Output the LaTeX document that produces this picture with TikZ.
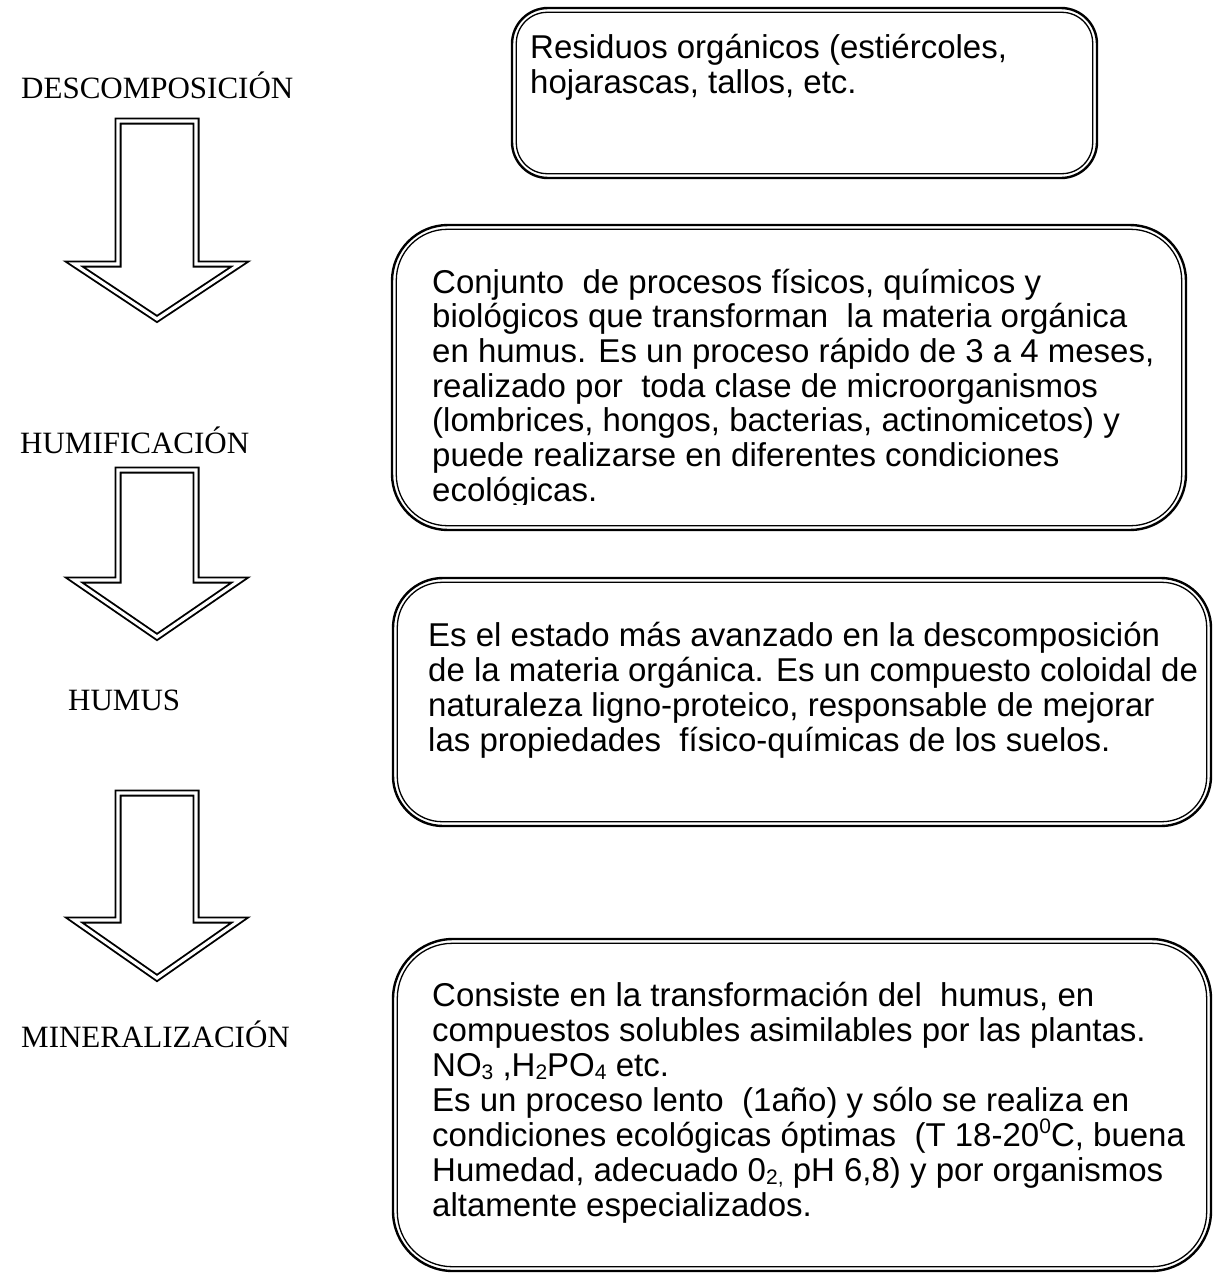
\documentclass[tikz,border=0pt]{standalone}
\usepackage{fontspec}
\setmainfont{Liberation Serif}
\newfontfamily\arialf{Liberation Sans}
\begin{document}
\begin{tikzpicture}[x=1pt,y=-1pt,
  boxline/.style={draw, line width=2.4pt, rounded corners=#1, inner sep=0pt},
  innerline/.style={draw, line width=1.3pt, rounded corners=#1},
  txt/.style={anchor=base west, inner sep=0pt, font=\arialf\fontsize{33}{35}\selectfont},
  small/.style={},
  lab/.style={anchor=base west, inner sep=0pt, font=\fontsize{31}{36}\selectfont},
  blockarrow/.style={draw, line width=1.9pt, double=white, double distance=3.2pt, line join=miter}]
\useasboundingbox (0,0) rectangle (1214,1274);
\fill[white] (0,0) rectangle (1214,1274);

% left labels
\node[lab] (l1) at (21,98) {DESCOMPOSICIÓN};
\node[lab] (l2) at (20,453) {HUMIFICACIÓN};
\node[lab] (l3) at (68,710) {HUMUS};
\node[lab] (l4) at (21,1047) {MINERALIZACIÓN};

% block arrows
\foreach \n/\t/\h/\p in {a1/121/264/319, a2/470/580/637, a3/793/920/978}{
  \draw[blockarrow] (118,\t) -- (196,\t) -- (196,\h) -- (240,\h) -- (157,\p)
        -- (74,\h) -- (118,\h) -- cycle;
}

% boxes
\node[boxline=36pt, minimum width=585pt, minimum height=170pt] (b1) at (804.5,93) {};
\draw[innerline=31pt] ([shift={(5.5,5.5)}]b1.north west) rectangle ([shift={(-5.5,-5.5)}]b1.south east);

\node[boxline=56pt, minimum width=794pt, minimum height=305pt] (b2) at (789,377.5) {};
\draw[innerline=51pt] ([shift={(5.5,5.5)}]b2.north west) rectangle ([shift={(-5.5,-5.5)}]b2.south east);

\node[boxline=50pt, minimum width=818pt, minimum height=248pt] (b3) at (802,702) {};
\draw[innerline=45pt] ([shift={(5.5,5.5)}]b3.north west) rectangle ([shift={(-5.5,-5.5)}]b3.south east);

\node[boxline=60pt, minimum width=818pt, minimum height=332pt] (b4) at (802,1105) {};
\draw[innerline=55pt] ([shift={(5.5,5.5)}]b4.north west) rectangle ([shift={(-5.5,-5.5)}]b4.south east);

% box texts
\foreach \s [count=\i] in {{Residuos orgánicos (estiércoles,}, {hojarascas, tallos, etc.}}
  \node[txt] (t1-\i) at (530,58+35*\i-35) {\s};

\begin{scope}
\clip (392,225) rectangle (1186,504);
\foreach \s [count=\i] in {{Conjunto\ \ de procesos físicos, químicos y},
  {biológicos que transforman\ \ la materia orgánica},
  {en humus. Es un proceso rápido de 3 a 4 meses,},
  {realizado por\ \ toda clase de microorganismos},
  {(lombrices, hongos, bacterias, actinomicetos) y},
  {puede realizarse en diferentes condiciones},
  {ecológicas.}}
  \node[txt] (t2-\i) at (432,293+34.7*\i-34.7) {\s};
\end{scope}

\foreach \s [count=\i] in {{Es el estado más avanzado en la descomposición},
  {de la materia orgánica. Es un compuesto coloidal de},
  {naturaleza ligno-proteico, responsable de mejorar},
  {las propiedades\ \ físico-químicas de los suelos.}}
  \node[txt] (t3-\i) at (428,646+35*\i-35) {\s};

\foreach \s [count=\i] in {{Consiste en la transformación del\ \ humus, en},
  {compuestos solubles asimilables por las plantas.},
  {NO{\fontsize{21}{21}\selectfont\raisebox{-0.18em}{3}} ,H{\fontsize{21}{21}\selectfont\raisebox{-0.18em}{2}}PO{\fontsize{21}{21}\selectfont\raisebox{-0.18em}{4}} etc.},
  {Es un proceso lento\ \ (1año) y sólo se realiza en},
  {condiciones ecológicas óptimas\ \ (T 18-20{\fontsize{21}{21}\selectfont\raisebox{0.6em}{0}}C, buena},
  {Humedad, adecuado 0{\fontsize{21}{21}\selectfont\raisebox{-0.18em}{2,}} pH 6,8) y por organismos},
  {altamente especializados.}}
  \node[txt] (t4-\i) at (432,1006+35*\i-35) {\s};
\end{tikzpicture}
\end{document}
